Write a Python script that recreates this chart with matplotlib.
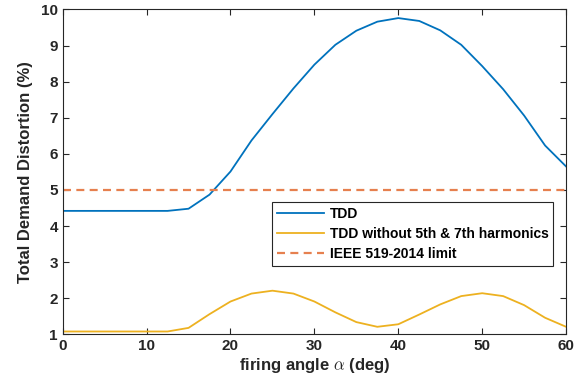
import matplotlib
matplotlib.use("Agg")
import matplotlib.pyplot as plt

plt.rcParams['font.family'] = ['Liberation Sans', 'DejaVu Sans']
plt.rcParams['mathtext.fontset'] = 'cm'

alpha_deg = [0, 2.5, 5, 7.5, 10, 12.5, 15, 17.5, 20, 22.5, 25, 27.5, 30, 32.5, 35,
             37.5, 40, 42.5, 45, 47.5, 50, 52.5, 55, 57.5, 60]
tdd = [4.42, 4.42, 4.42, 4.42, 4.42, 4.42, 4.48, 4.87, 5.51, 6.37, 7.1, 7.81, 8.47,
       9.02, 9.41, 9.66, 9.76, 9.68, 9.42, 9.02, 8.43, 7.79, 7.06, 6.23, 5.65]
tdd_no57 = [1.08, 1.08, 1.08, 1.08, 1.08, 1.08, 1.18, 1.56, 1.91, 2.13, 2.21, 2.13,
            1.91, 1.61, 1.34, 1.21, 1.28, 1.55, 1.83, 2.06, 2.14, 2.06, 1.81, 1.46, 1.21]
limit = 5.0

labels = ['TDD', 'TDD without 5th & 7th harmonics', 'IEEE 519-2014 limit']

fig = plt.figure(figsize=(5.86, 3.92), dpi=100)
ax = fig.add_axes([0.107, 0.147, 0.859, 0.829])

ax.plot(alpha_deg, tdd, color='#0072BD', lw=1.3, label=labels[0])
ax.plot(alpha_deg, tdd_no57, color='#EDB120', lw=1.3, label=labels[1])
ax.plot([alpha_deg[0], alpha_deg[-1]], [limit, limit], color='#E6804F', lw=1.6,
        ls=(0, (3.6, 2.4)), label=labels[2])

ax.set_xlim(0, 60)
ax.set_ylim(1, 10)
ax.set_xticks(range(0, 61, 10))
ax.set_yticks(range(1, 11))
ax.tick_params(direction='in', top=True, right=True, length=4, width=0.8,
               labelsize=11, colors='#262626')
for lab in ax.get_xticklabels() + ax.get_yticklabels():
    lab.set_fontweight('bold')
for s in ax.spines.values():
    s.set_color('#262626')
    s.set_linewidth(0.8)

ax.set_xlabel(r'firing angle $\alpha$ (deg)', fontsize=12, fontweight='bold', color='#262626', labelpad=2)
ax.set_ylabel('Total Demand Distortion (%)', fontsize=12, fontweight='bold', color='#262626', labelpad=6)

leg = ax.legend(loc='upper left', bbox_to_anchor=(0.416, 0.408), fancybox=False,
                edgecolor='#262626', framealpha=1, prop={'weight': 'bold', 'size': 10},
                handlelength=3.4, handletextpad=0.4, borderpad=0.35, labelspacing=0.45,
                borderaxespad=0)
leg.get_frame().set_linewidth(0.8)

fig.savefig('out.png', dpi=100)
